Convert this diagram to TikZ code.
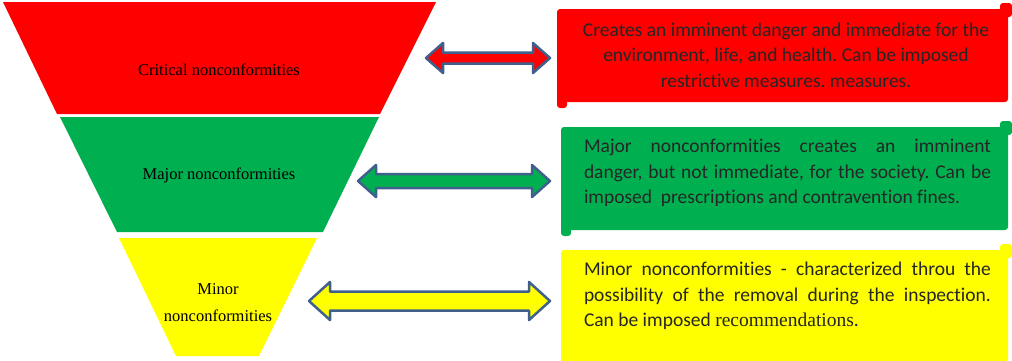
\documentclass[tikz,border=0pt]{standalone}
\usepackage{fontspec}
\setmainfont{Liberation Serif}
\newfontfamily\boxfont[Ligatures={NoCommon}]{Carlito}
\usetikzlibrary{calc}
\definecolor{cred}{HTML}{FF0000}
\definecolor{cgreen}{HTML}{00B050}
\definecolor{cyellow}{HTML}{FFFF00}
\definecolor{outl}{HTML}{3F608C}
\newcommand\scrollbx[5]{%
  \fill[#1,rounded corners=3pt] (#2,#3) rectangle (#4,#5);
  \fill[#1,rounded corners=3pt] (#4-8,#3-6) rectangle (#4+4,#3+8);
  \fill[#1,rounded corners=3pt] (#2,#5-8) rectangle (#2+10,#5+6);}
\newcommand\dblarr[8]{% name, colour, L, R, C, H, S, K
  \coordinate (#1l) at (#3,#5);
  \coordinate (#1r) at (#4,#5);
  \filldraw[arrowst, fill=#2] (#1l) -- ($(#1l)+(#8,-#6)$) -- ($(#1l)+(#8,-#7)$)
    -- ($(#1r)+(-#8,-#7)$) -- ($(#1r)+(-#8,-#6)$) -- (#1r)
    -- ($(#1r)+(-#8,#6)$) -- ($(#1r)+(-#8,#7)$) -- ($(#1l)+(#8,#7)$)
    -- ($(#1l)+(#8,#6)$) -- cycle;}
\frenchspacing
\begin{document}
\begin{tikzpicture}[x=1pt,y=-1pt,
  flab/.style={font=\fontsize{16.5}{27}\selectfont, text=black, inner sep=0pt},
  btxt/.style={font=\boxfont\fontsize{19.5}{25.5}\selectfont, text=black!85, inner sep=0pt},
  arrowst/.style={draw=outl, line width=2.5pt, line join=round}]
\useasboundingbox (0,0) rectangle (1012,360);
% funnel
\fill[cred] (3,2) -- (436,2) -- (380,114) -- (57,114) -- cycle;
\fill[cgreen] (60,117) -- (379,117) -- (323,232) -- (117,232) -- cycle;
\fill[cyellow] (119,238) -- (317,238) -- (259,356) -- (176,356) -- cycle;
\node[flab] (crit) at (219,70) {Critical nonconformities};
\node[flab] (major) at (219,175) {Major nonconformities};
\node[flab, align=center] (minor) at (218,303) {Minor\\nonconformities};
% boxes
\scrollbx{cred}{557}{9}{1008}{102}
\scrollbx{cgreen}{561}{127}{1008}{230}
\scrollbx{cyellow}{561}{250}{1008}{362}
\node[btxt, align=center] (rt) at (786,55) {Creates an imminent danger and immediate for the\\environment, life, and health. Can be imposed\\restrictive measures. measures.};
\node[btxt, align=left] (gt) at (787.5,173) {\makebox[407pt][s]{Major nonconformities creates an imminent}\\\makebox[407pt][s]{danger, but not immediate, for the society. Can be}\\imposed\ \ prescriptions and contravention fines.};
\node[btxt, align=left] (yt) at (787.5,296) {\makebox[407pt][s]{Minor nonconformities - characterized throu the}\\\makebox[407pt][s]{possibility of the removal during the inspection.}\\Can be imposed {\rmfamily recommendations}.};
% arrows
\dblarr{ra}{cred}{426}{550}{58}{15}{5.5}{17}
\dblarr{ga}{cgreen}{358}{550}{181}{16}{7}{18}
\dblarr{ya}{cyellow}{309}{550}{301}{19}{9.5}{21}
\end{tikzpicture}
\end{document}
